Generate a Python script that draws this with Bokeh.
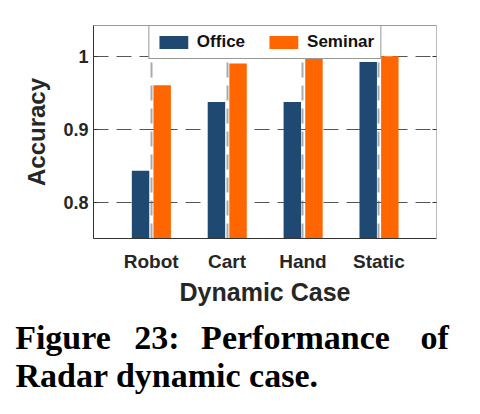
from bokeh.plotting import figure
from bokeh.layouts import column
from bokeh.models import (FactorRange, Range1d, ColumnDataSource, Legend, LegendItem,
                          LinearAxis, FixedTicker, Title)
from bokeh.transform import dodge
from bokeh.core.properties import value
from bokeh.embed import file_html
from bokeh.resources import INLINE

# ---- data ----
cases = ["Robot", "Cart", "Hand", "Static"]
office = [0.843, 0.937, 0.937, 0.992]
seminar = [0.960, 0.990, 1.000, 1.000]
y_ticks = [0.8, 0.9, 1.0]
y_tick_labels = {0.8: "0.8", 0.9: "0.9", 1.0: "1"}
series_names = ["Office", "Seminar"]
series_colors = ["#1f4971", "#ff6600"]
x_title = "Dynamic Case"
y_title = "Accuracy"
caption_line1 = ["Figure", "23:", "Performance", "of"]
caption_line2 = "Radar dynamic case."

SANS = "Liberation Sans"
SERIF = "Liberation Serif"
W = 480
H_CHART = 306
H_CAP = 414 - H_CHART
SHIFT = -10  # vertical correction for the lower panel

src = ColumnDataSource(dict(case=cases, office=office, seminar=seminar))

p = figure(width=W, height=H_CHART, output_backend="svg", toolbar_location=None,
           x_range=FactorRange(factors=cases, range_padding=0.26, range_padding_units="absolute"),
           y_range=Range1d(0.75, 1.042),
           min_border_left=93, min_border_right=44, min_border_top=25,
           min_border_bottom=H_CHART - 238)
p.frame_align = False
p.background_fill_color = "white"
p.border_fill_color = "white"
p.outline_line_color = "#9a9a9a"
p.outline_line_width = 1

r1 = p.vbar(x=dodge("case", -0.14, range=p.x_range), top="office", bottom=0.75, width=0.23,
            source=src, fill_color=series_colors[0], line_color=None)
r2 = p.vbar(x=dodge("case", 0.145, range=p.x_range), top="seminar", bottom=0.75, width=0.23,
            source=src, fill_color=series_colors[1], line_color=None)

# axes
p.yaxis.ticker = FixedTicker(ticks=y_ticks)
p.yaxis.major_label_overrides = y_tick_labels
p.yaxis.minor_tick_line_color = None
p.yaxis.major_tick_in = 4
p.yaxis.major_tick_out = 0
p.yaxis.major_tick_line_color = "#333333"
p.yaxis.axis_line_color = "#333333"
p.yaxis.major_label_standoff = 5
p.yaxis.major_label_text_font = SANS
p.yaxis.major_label_text_font_style = "bold"
p.yaxis.major_label_text_font_size = "18px"
p.yaxis.major_label_text_color = "#262626"
p.yaxis.axis_label = y_title
p.yaxis.axis_label_text_font = SANS
p.yaxis.axis_label_text_font_style = "bold"
p.yaxis.axis_label_text_font_size = "24px"
p.yaxis.axis_label_text_color = "#262626"
p.yaxis.axis_label_standoff = 10

p.xaxis.major_tick_line_color = None
p.xaxis.minor_tick_line_color = None
p.xaxis.axis_line_color = "#333333"
p.xaxis.major_label_standoff = 6
p.xaxis.major_label_text_font = SANS
p.xaxis.major_label_text_font_style = "bold"
p.xaxis.major_label_text_font_size = "19px"
p.xaxis.major_label_text_color = "#262626"

ax_r = LinearAxis(ticker=FixedTicker(ticks=y_ticks), axis_line_color="#bbbbbb",
                  major_tick_in=4, major_tick_out=0, major_tick_line_color="#333333",
                  minor_tick_line_color=None, major_label_text_font_size="0px")
p.add_layout(ax_r, "right")

# x-axis title (offset to the right as in the reference)
p.add_layout(Title(text=x_title, align="center", offset=12.5, standoff=2,
                   text_font=SANS, text_font_style="bold", text_font_size="25px",
                   text_color="#262626"), "below")

# grids
p.ygrid.grid_line_color = "#555555"
p.ygrid.grid_line_dash = "15 8"
p.ygrid.grid_line_width = 1
p.xgrid.grid_line_color = "#aaaaaa"
p.xgrid.grid_line_dash = "15 8"
p.xgrid.grid_line_width = 2

# legend
legend = Legend(items=[LegendItem(label=series_names[0], renderers=[r1]),
                       LegendItem(label=series_names[1], renderers=[r2])],
                orientation="horizontal", location="top_center", margin=0,
                padding=6, spacing=20, label_standoff=6,
                glyph_width=36, glyph_height=16, label_height=16,
                label_text_font=SANS, label_text_font_style="bold",
                label_text_font_size="17px", label_text_color="#111111",
                border_line_color="#333333", border_line_width=1,
                background_fill_color="white", background_fill_alpha=1.0)
p.add_layout(legend, "center")

# ---- lower panel: figure caption (pixel coordinates, y downward) ----
c = figure(width=W, height=H_CAP, output_backend="svg", toolbar_location=None,
           x_range=Range1d(0, W), y_range=Range1d(H_CAP, 0),
           x_axis_location=None, y_axis_location=None,
           min_border=0, min_border_left=0, min_border_right=0,
           min_border_top=0, min_border_bottom=0)
c.frame_align = False
c.grid.visible = False
c.outline_line_color = None
c.background_fill_color = "white"
c.border_fill_color = "white"

cap1 = ColumnDataSource(dict(x=[62.5, 156.5, 295, 434.2],
                             y=[346.7 - H_CHART + SHIFT] * 4, t=caption_line1))
c.text(x="x", y="y", text="t", source=cap1, text_font=value(SERIF),
       text_font_style="bold", text_font_size="34px", text_color="black",
       text_align="center", text_baseline="alphabetic")
c.text(x=[15], y=[385 - H_CHART + SHIFT], text=[caption_line2], text_font=value(SERIF),
       text_font_style="bold", text_font_size="34px", text_color="black",
       text_align="left", text_baseline="alphabetic")

layout = column(p, c, spacing=0)
open("out.html", "w").write(file_html(layout, INLINE))
